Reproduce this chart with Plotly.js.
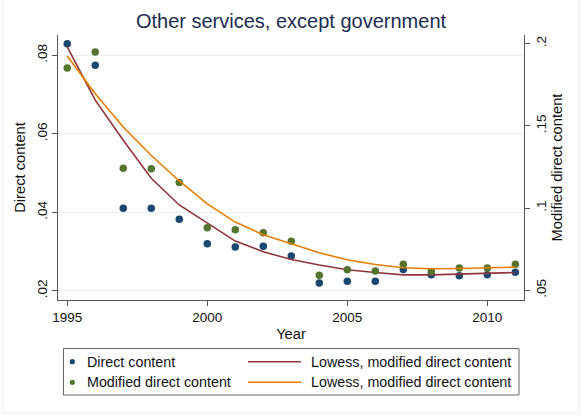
<!DOCTYPE html>
<html>
<head>
<meta charset="utf-8">
<script src="https://cdn.plot.ly/plotly-3.0.1.min.js"></script>
<style>
  html, body { margin: 0; padding: 0; background: #ffffff; }
  #chart { width: 582px; height: 416px; }
</style>
</head>
<body>
<div id="chart"></div>
<script>
// Years on the x axis
const years = [1995, 1996, 1997, 1998, 1999, 2000, 2001, 2002, 2003,
               2004, 2005, 2006, 2007, 2008, 2009, 2010, 2011];

// Direct content (left axis)
const directContent = [0.0830, 0.0775, 0.0411, 0.0411, 0.0383, 0.0320, 0.0312, 0.0314, 0.0289,
                       0.0220, 0.0225, 0.0225, 0.0255, 0.0241, 0.0239, 0.0241, 0.0248];

// Modified direct content (right axis)
const modifiedContent = [0.1853, 0.1949, 0.1243, 0.1239, 0.1156, 0.0880, 0.0868, 0.0850, 0.0799,
                         0.0592, 0.0625, 0.0617, 0.0659, 0.0614, 0.0635, 0.0635, 0.0659];

// Lowess smooth on the left axis
const lowessLeft = [0.0822, 0.0686, 0.0584, 0.0487, 0.0419, 0.0374, 0.0327, 0.0300, 0.0280,
                    0.0266, 0.0254, 0.0247, 0.0241, 0.0241, 0.0243, 0.0245, 0.0247];

// Lowess smooth on the right axis
const lowessRight = [0.1925, 0.1695, 0.1493, 0.1320, 0.1165, 0.1026, 0.0915, 0.0838, 0.0783,
                     0.0728, 0.0686, 0.0657, 0.0637, 0.0631, 0.0633, 0.0635, 0.0641];

// Tick values and labels
const xTicks = [1995, 2000, 2005, 2010];
const yTicks = [0.02, 0.04, 0.06, 0.08];
const yTickText = ['.02', '.04', '.06', '.08'];
const y2Ticks = [0.05, 0.10, 0.15, 0.20];
const y2TickText = ['.05', '.1', '.15', '.2'];

// Legend entries
const legendLabels = ['Direct content', 'Modified direct content',
                      'Lowess, modified direct content', 'Lowess, modified direct content'];

const NAVY = '#1a476f', GREEN = '#55752f', MAROON = '#90353b', ORANGE = '#e37e00';
const FONT = 'Liberation Sans, Arial, sans-serif';
const AXIS = '#555555';

// Plot area in pixels (used to place legend / frame decorations in paper units)
const W = 582, H = 416;
const M = { l: 58, r: 58, t: 35, b: 116 };
const PW = W - M.l - M.r, PH = H - M.t - M.b;
const px = x => (x - M.l) / PW;
const py = y => (H - M.b - y) / PH;

const traces = [
  { x: years, y: directContent, type: 'scatter', mode: 'markers', name: legendLabels[0],
    marker: { color: NAVY, size: 7.5 }, yaxis: 'y', showlegend: false },
  { x: years, y: modifiedContent, type: 'scatter', mode: 'markers', name: legendLabels[1],
    marker: { color: GREEN, size: 7.5 }, yaxis: 'y2', showlegend: false },
  { x: years, y: lowessLeft, type: 'scatter', mode: 'lines', name: legendLabels[2],
    line: { color: MAROON, width: 1.6 }, yaxis: 'y', showlegend: false },
  { x: years, y: lowessRight, type: 'scatter', mode: 'lines', name: legendLabels[3],
    line: { color: ORANGE, width: 1.6 }, yaxis: 'y2', showlegend: false }
];

// Legend box drawn beneath the plot
const rowY = [361.7, 382.3];
const shapes = [
  { type: 'rect', xref: 'paper', yref: 'paper',
    x0: px(63.5), x1: px(519), y0: py(395), y1: py(348.5),
    line: { color: '#666666', width: 1 }, fillcolor: 'rgba(0,0,0,0)' },
  { type: 'circle', xref: 'paper', yref: 'paper', xsizemode: 'pixel', ysizemode: 'pixel',
    xanchor: px(72.3), yanchor: py(rowY[0]), x0: -2.6, x1: 2.6, y0: -2.6, y1: 2.6,
    fillcolor: NAVY, line: { width: 0 } },
  { type: 'circle', xref: 'paper', yref: 'paper', xsizemode: 'pixel', ysizemode: 'pixel',
    xanchor: px(72.3), yanchor: py(rowY[1]), x0: -2.6, x1: 2.6, y0: -2.6, y1: 2.6,
    fillcolor: GREEN, line: { width: 0 } },
  { type: 'line', xref: 'paper', yref: 'paper',
    x0: px(248), x1: px(301), y0: py(rowY[0]), y1: py(rowY[0]),
    line: { color: MAROON, width: 1.4 } },
  { type: 'line', xref: 'paper', yref: 'paper',
    x0: px(248), x1: px(301), y0: py(rowY[1]), y1: py(rowY[1]),
    line: { color: ORANGE, width: 1.4 } },
  // faint outer frame of the graph region
  { type: 'line', xref: 'paper', yref: 'paper', x0: px(3), x1: px(3), y0: py(413), y1: py(0),
    line: { color: '#e6eef0', width: 1 } },
  { type: 'line', xref: 'paper', yref: 'paper', x0: px(3), x1: px(579), y0: py(413), y1: py(413),
    line: { color: '#e6eef0', width: 1 } },
  { type: 'line', xref: 'paper', yref: 'paper', x0: px(579), x1: px(579), y0: py(413), y1: py(0),
    line: { color: '#e6eef0', width: 1 } }
];

const legendFont = { family: FONT, size: 14.3, color: '#111111' };
const annotations = [
  { text: legendLabels[0], x: px(84.5), y: py(rowY[0]) },
  { text: legendLabels[1], x: px(84.5), y: py(rowY[1]) },
  { text: legendLabels[2], x: px(308.5), y: py(rowY[0]) },
  { text: legendLabels[3], x: px(308.5), y: py(rowY[1]) }
].map(a => Object.assign({
  xref: 'paper', yref: 'paper', xanchor: 'left', yanchor: 'middle',
  showarrow: false, font: legendFont
}, a));

const tickFont = { family: FONT, size: 13.5, color: '#111111' };
const titleFont = { family: FONT, size: 14.7, color: '#111111' };

const layout = {
  width: W, height: H,
  margin: M,
  paper_bgcolor: '#ffffff',
  plot_bgcolor: '#ffffff',
  showlegend: false,
  title: {
    text: 'Other services, except government',
    font: { family: FONT, size: 20, color: '#1a2d50' },
    x: 0.5, xanchor: 'center', y: 1 - 21 / H, yanchor: 'middle'
  },
  xaxis: {
    range: [1994.67, 2011.31],
    tickvals: xTicks, ticktext: xTicks.map(String),
    ticks: 'outside', ticklen: 5, tickcolor: AXIS,
    showline: true, linecolor: AXIS, linewidth: 1,
    showgrid: false, zeroline: false,
    tickfont: tickFont,
    title: { text: 'Year', font: titleFont, standoff: 4 }
  },
  yaxis: {
    range: [0.0177, 0.0852],
    tickvals: yTicks, ticktext: yTickText, tickangle: -90,
    ticks: 'outside', ticklen: 5, tickcolor: AXIS,
    showline: true, linecolor: AXIS, linewidth: 1,
    showgrid: true, gridcolor: '#e8f0f2', gridwidth: 1,
    zeroline: false,
    tickfont: tickFont,
    title: { text: 'Direct content', font: titleFont, standoff: 5 }
  },
  yaxis2: {
    overlaying: 'y', side: 'right',
    range: [0.0441, 0.2053],
    tickvals: y2Ticks, ticktext: y2TickText, tickangle: -90,
    ticks: 'outside', ticklen: 5, tickcolor: AXIS,
    showline: true, linecolor: AXIS, linewidth: 1,
    showgrid: false, zeroline: false,
    tickfont: tickFont,
    title: { text: 'Modified direct content', font: titleFont, standoff: 2 }
  },
  shapes: shapes,
  annotations: annotations
};

Plotly.newPlot('chart', traces, layout, { displayModeBar: false, staticPlot: true });
</script>
</body>
</html>
